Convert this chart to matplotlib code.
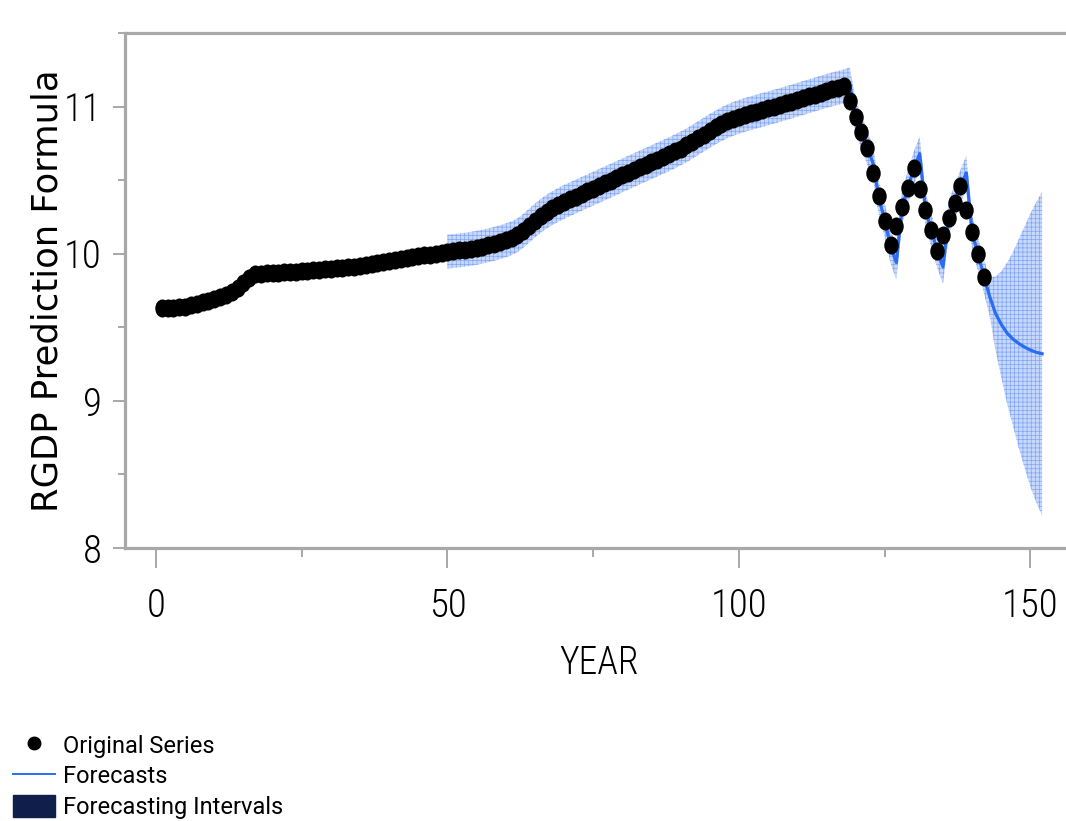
import numpy as np
import matplotlib
matplotlib.use("Agg")
import matplotlib.pyplot as plt
from matplotlib import font_manager as fm
from matplotlib.lines import Line2D
from matplotlib.patches import Patch
from matplotlib.path import Path
from matplotlib.transforms import Affine2D
from matplotlib.ticker import FixedLocator

# ---------------------------------------------------------------- data
years = np.arange(1, 143)
rgdp = [
    9.630, 9.630, 9.630, 9.635, 9.640, 9.650, 9.660, 9.670, 9.680, 9.690,
    9.705, 9.720, 9.740, 9.770, 9.800, 9.835, 9.865, 9.865, 9.866, 9.868,
    9.870, 9.873, 9.876, 9.879, 9.882, 9.885, 9.888, 9.891, 9.894, 9.897,
    9.900, 9.903, 9.907, 9.911, 9.916, 9.922, 9.929, 9.936, 9.943, 9.950,
    9.957, 9.964, 9.970, 9.976, 9.982, 9.988, 9.994, 10.000, 10.006, 10.015,
    10.018, 10.022, 10.027, 10.033, 10.040, 10.048, 10.057, 10.067, 10.078, 10.090,
    10.105, 10.125, 10.155, 10.190, 10.225, 10.258, 10.285, 10.310, 10.332, 10.352,
    10.370, 10.388, 10.406, 10.424, 10.442, 10.460, 10.478, 10.496, 10.514, 10.532,
    10.550, 10.568, 10.586, 10.604, 10.622, 10.640, 10.658, 10.676, 10.695, 10.715,
    10.736, 10.760, 10.785, 10.810, 10.835, 10.858, 10.880, 10.899, 10.916, 10.930,
    10.943, 10.955, 10.966, 10.977, 10.988, 10.999, 11.010, 11.022, 11.034, 11.046,
    11.058, 11.070, 11.082, 11.094, 11.106, 11.117, 11.127, 11.137,
    11.036, 10.930, 10.825, 10.720, 10.550, 10.390, 10.220, 10.060,
    10.190, 10.320, 10.450, 10.580, 10.440, 10.300, 10.160, 10.016,
    10.130, 10.240, 10.345, 10.460, 10.300, 10.150, 9.998, 9.845,
]

# one-step forecasts (years 50-142) followed by the 10-year horizon (143-152)
forecast_years = np.arange(50, 153)
forecast = [
    10.015,
    10.018, 10.022, 10.027, 10.033, 10.040, 10.048, 10.057, 10.067, 10.078, 10.090,
    10.105, 10.125, 10.155, 10.190, 10.225, 10.258, 10.285, 10.310, 10.332, 10.352,
    10.370, 10.388, 10.406, 10.424, 10.442, 10.460, 10.478, 10.496, 10.514, 10.532,
    10.550, 10.568, 10.586, 10.604, 10.622, 10.640, 10.658, 10.676, 10.695, 10.715,
    10.736, 10.760, 10.785, 10.810, 10.835, 10.858, 10.880, 10.899, 10.916, 10.930,
    10.943, 10.955, 10.966, 10.977, 10.988, 10.999, 11.010, 11.022, 11.034, 11.046,
    11.058, 11.070, 11.082, 11.094, 11.106, 11.117, 11.127, 11.137,
    11.150, 10.935, 10.830, 10.720, 10.615, 10.380, 10.230, 10.050,
    9.940, 10.320, 10.450, 10.580, 10.680, 10.300, 10.160, 10.020,
    9.910, 10.245, 10.350, 10.455, 10.550, 10.140, 10.000, 9.850,
    9.710, 9.595, 9.520, 9.460, 9.420, 9.390, 9.365, 9.345, 9.330, 9.320,
]

# half-width of the forecasting interval
interval_halfwidth_fit = 0.115
interval_halfwidth_ahead = [0.13, 0.25, 0.36, 0.48, 0.59, 0.71, 0.82, 0.93, 1.02, 1.10]

x_major = [0, 50, 100, 150]
x_minor = [25, 75, 125]
y_major = [8, 9, 10, 11]
y_minor = [8.5, 9.5, 10.5, 11.5]

# ---------------------------------------------------------------- fonts
available = {f.name for f in fm.fontManager.ttflist}
narrow_names = ["Roboto Condensed", "Liberation Sans Narrow",
                "Open Sans Condensed", "DejaVu Sans Condensed"]
narrow = next((n for n in narrow_names if n in available), None)
if narrow is not None:
    tick_font = fm.FontProperties(family=narrow, weight="light", size=28)
    title_font = fm.FontProperties(family=narrow, weight="light", size=27)
else:
    tick_font = fm.FontProperties(family="DejaVu Sans", stretch="condensed", size=22)
    title_font = fm.FontProperties(family="DejaVu Sans", stretch="condensed", size=21)

spine_grey = "#a8a8a8"
line_blue = "#2a6cf2"
band_face = "#c8d8fb"
band_hatch = "#7fa5f4"

plt.rcParams["hatch.linewidth"] = 0.5

# ---------------------------------------------------------------- figure
fig = plt.figure(figsize=(10.66, 8.21), dpi=100)
ax = fig.add_axes([125 / 1066, 1 - 548 / 821, 941 / 1066, (548 - 33) / 821])

fc = np.asarray(forecast)
n_fit = len(years) - (forecast_years[0] - 1)
halfwidth = np.concatenate([np.full(n_fit, interval_halfwidth_fit),
                            interval_halfwidth_ahead])

ax.fill_between(forecast_years, fc - halfwidth, fc + halfwidth,
                facecolor=band_face, edgecolor=band_hatch, hatch="++++",
                linewidth=0, zorder=1)
ax.plot(forecast_years, fc, color=line_blue, lw=2.3, zorder=2)

# slightly tall elliptical dots
ellipse = Path.unit_circle().transformed(Affine2D().scale(0.8, 1.0))
ax.plot(years, rgdp, linestyle="none", marker=ellipse, markersize=13,
        markerfacecolor="black", markeredgecolor="black", markeredgewidth=0,
        zorder=3)

ax.set_xlim(-5.3, 156.1)
ax.set_ylim(8, 11.5)

ax.spines["right"].set_visible(False)
for side in ("left", "bottom", "top"):
    ax.spines[side].set_color(spine_grey)
    ax.spines[side].set_linewidth(2.3)

ax.xaxis.set_major_locator(FixedLocator(x_major))
ax.xaxis.set_minor_locator(FixedLocator(x_minor))
ax.yaxis.set_major_locator(FixedLocator(y_major))
ax.yaxis.set_minor_locator(FixedLocator(y_minor))
ax.set_xticklabels([str(v) for v in x_major])
ax.set_yticklabels([str(v) for v in y_major])

ax.tick_params(axis="x", which="major", length=14.4, width=1.4, color=spine_grey, pad=14)
ax.tick_params(axis="x", which="minor", length=6.7, width=1.4, color=spine_grey)
ax.tick_params(axis="y", which="major", length=8.6, width=1.4, color=spine_grey, pad=8)
ax.tick_params(axis="y", which="minor", length=5.0, width=1.4, color=spine_grey)
ax.tick_params(top=False, right=False)

for lab in ax.get_xticklabels() + ax.get_yticklabels():
    lab.set_fontproperties(tick_font)
    lab.set_color("black")

ax.set_xlabel("YEAR", fontproperties=title_font, color="black")
ax.xaxis.set_label_coords(0.504, -0.188)
ax.xaxis.label.set_va("top")

ax.set_ylabel("RGDP Prediction Formula", family="DejaVu Sans", fontsize=25.5, color="black")
ax.yaxis.set_label_coords(-0.064, 0.5)

# ---------------------------------------------------------------- legend
handles = [
    Line2D([], [], linestyle="none", marker="o", markersize=9,
           markerfacecolor="black", markeredgecolor="black"),
    Line2D([], [], color=line_blue, lw=1.4),
    Patch(facecolor="#0f1e4b", edgecolor="#0f1e4b"),
]
labels = ["Original Series", "Forecasts", "Forecasting Intervals"]
fig.legend(handles, labels, loc="upper left", bbox_to_anchor=(13 / 1066, 1 - 734 / 821),
           frameon=False, prop={"family": "Roboto", "size": 17},
           handlelength=1.78, handleheight=1.0, handletextpad=0.35,
           labelspacing=0.30, borderpad=0, borderaxespad=0)

fig.savefig("out.png", dpi=100)
